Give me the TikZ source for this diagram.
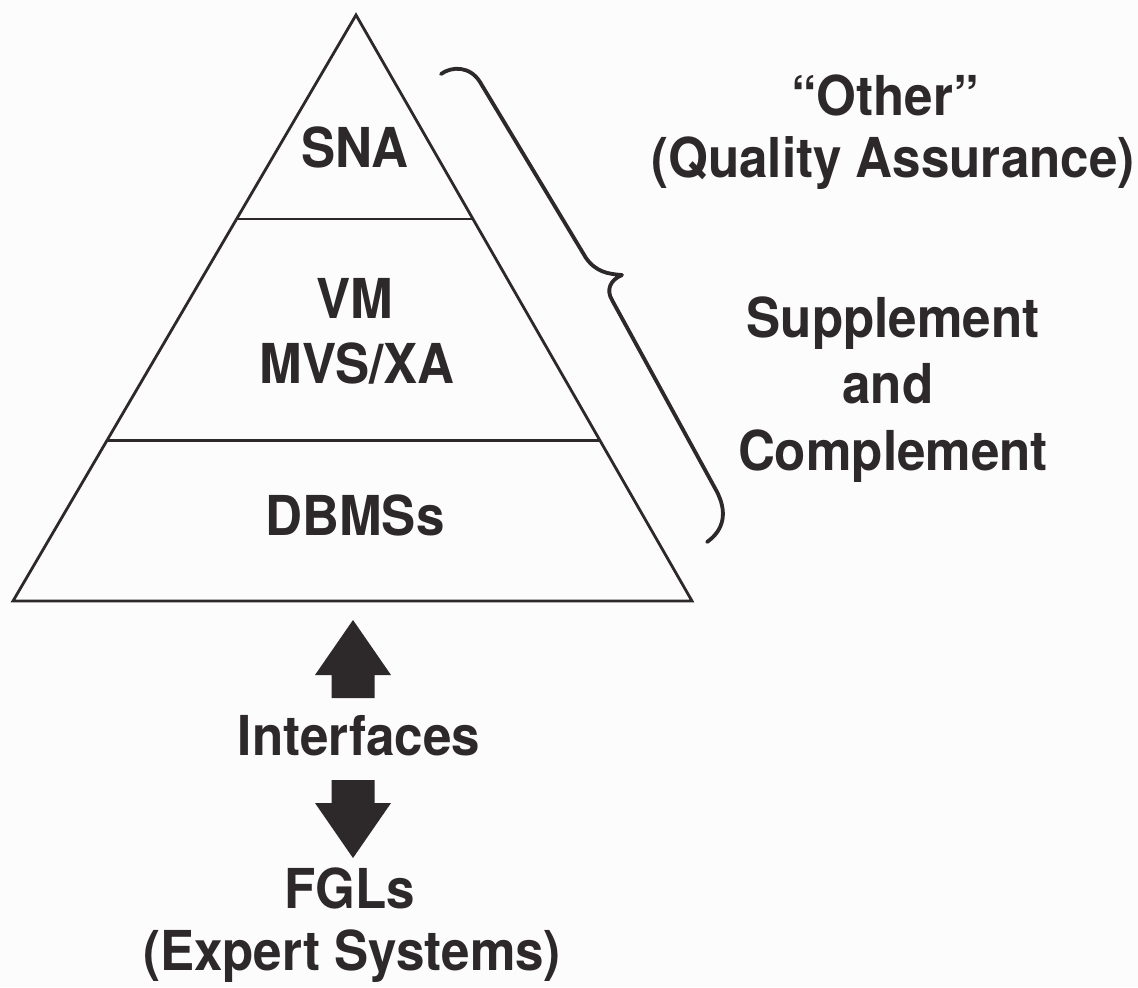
\documentclass[tikz,border=0pt]{standalone}
\usepackage{fontspec}
\setsansfont{TeX Gyre Heros}[FakeStretch=0.93]
\usetikzlibrary{calc}
\definecolor{ink}{HTML}{2D2829}
\definecolor{paper}{HTML}{FCFCFD}

\begin{document}
\begin{tikzpicture}[
  x=.5pt,y=-.5pt,font=\sffamily\bfseries\fontsize{27.5}{33}\selectfont,
  edge/.style={draw=ink,line width=1.4pt,line join=miter},
  brace/.style={draw=ink,line width=1.9pt,line cap=round,line join=round},
  label/.style={text=ink,inner sep=0pt,anchor=base},
  blockarrow/.style={fill=ink}
]
\fill[paper] (0,0) rectangle (1138,987);
\path[use as bounding box] (0,0) rectangle (1138,987);

% pyramid and its two layer lines
\coordinate (apex) at (356,15);
\coordinate (bl) at (13,601);
\coordinate (br) at (692,601);
\draw[edge] (apex) -- (br) -- (bl) -- cycle;
\draw[edge] ($(apex)!.348!(bl)$) -- ($(apex)!.348!(br)$);
\draw[edge] ($(apex)!.726!(bl)$) -- ($(apex)!.726!(br)$);

\node[label] (sna) at (355,167) {SNA};
\node[label] (vm) at (355,318) {VM};
\node[label] (mvs) at (357,383) {MVS/XA};
\node[label] (dbms) at (355,535) {DBMSs};

% curly brace along the right flank
\draw[brace] (441,74) .. controls (452,66) and (470,66) .. (480,82)
  -- (586,258) .. controls (596,272) and (608,274) .. (622,275)
  .. controls (610,280) and (606,290) .. (612,300)
  -- (716,490) .. controls (728,512) and (724,530) .. (707,542);

\node[label] (other) at (885,115) {“Other”};
\node[label] (qa) at (893,177) {(Quality Assurance)};
\node[label] (supp) at (893,337) {Supplement};
\node[label] (and) at (888,403) {and};
\node[label] (compl) at (893,470) {Complement};

% interfaces below the base
\coordinate (uptip) at (353,620);
\fill[blockarrow] (uptip) -- ++(38,55) -- ++(-16.5,0) -- ++(0,23)
  -- ++(-43,0) -- ++(0,-23) -- ++(-16.5,0) -- cycle;
\node[label] (intf) at (359,755) {Interfaces};
\coordinate (downtip) at (353,858);
\fill[blockarrow] (downtip) -- ++(38,-55) -- ++(-16.5,0) -- ++(0,-23)
  -- ++(-43,0) -- ++(0,23) -- ++(-16.5,0) -- cycle;
\node[label] (fgl) at (350,908) {FGLs};
\node[label] (expert) at (352,970) {(Expert Systems)};
\end{tikzpicture}
\end{document}
